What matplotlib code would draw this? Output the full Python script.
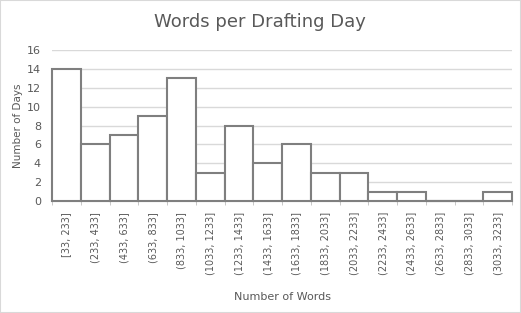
import numpy as np
import matplotlib.pyplot as plt

bins = ["[33, 233]", "(233, 433]", "(433, 633]", "(633, 833]", "(833, 1033]",
        "(1033, 1233]", "(1233, 1433]", "(1433, 1633]", "(1633, 1833]",
        "(1833, 2033]", "(2033, 2233]", "(2233, 2433]", "(2433, 2633]",
        "(2633, 2833]", "(2833, 3033]", "(3033, 3233]"]
days = [14, 6, 7, 9, 13, 3, 8, 4, 6, 3, 3, 1, 1, 0, 0, 1]
yticks = [0, 2, 4, 6, 8, 10, 12, 14, 16]

txt = "#595959"
fig = plt.figure(figsize=(5.21, 3.13), dpi=100)
fig.patches.append(plt.Rectangle((0, 0), 1, 1, transform=fig.transFigure,
                                 fill=False, edgecolor="#d9d9d9", linewidth=1.5))
ax = fig.add_axes([52/521, 1 - 201/313, 460/521, 151/313])

x = np.arange(len(bins))
ax.bar(x, days, width=1, align="edge", color="white", edgecolor="#7f7f7f",
       linewidth=1.5, zorder=3, clip_on=False)
# empty bins still show as a flat outline on the baseline
zero = [i for i, d in enumerate(days) if d == 0]
ax.hlines([0] * len(zero), zero, [i + 1 for i in zero], color="#7f7f7f",
          linewidth=1.5, zorder=4, clip_on=False)

ax.set_xlim(0, len(bins))
ax.set_ylim(0, 16)
ax.set_yticks(yticks)
ax.set_yticklabels([str(v) for v in yticks], fontsize=8, color=txt)
ax.yaxis.grid(True, color="#d9d9d9", linewidth=1)
ax.set_axisbelow(True)

ax.set_xticks(x + 0.5)
ax.set_xticklabels(bins, rotation=90, fontsize=7, color=txt)
ax.set_xticks(np.arange(len(bins) + 1), minor=True)
ax.tick_params(axis="x", which="major", length=0, pad=8)
ax.tick_params(axis="x", which="minor", length=3, color="#bfbfbf", direction="out")
ax.tick_params(axis="y", length=0, pad=8)

for s in ["top", "right", "left"]:
    ax.spines[s].set_visible(False)
ax.spines["bottom"].set_color("#bfbfbf")
ax.spines["bottom"].set_linewidth(1.5)

fig.text(18/521, 1 - 126/313, "Number of Days", ha="center", va="center",
         rotation=90, fontsize=7.5, color=txt)
fig.text(283/521, 1 - 297/313, "Number of Words", ha="center", va="center",
         fontsize=8, color=txt)
fig.text(260/521, 1 - 22/313, "Words per Drafting Day", ha="center", va="center",
         fontsize=13, color=txt)

plt.savefig("out.png", dpi=100)
